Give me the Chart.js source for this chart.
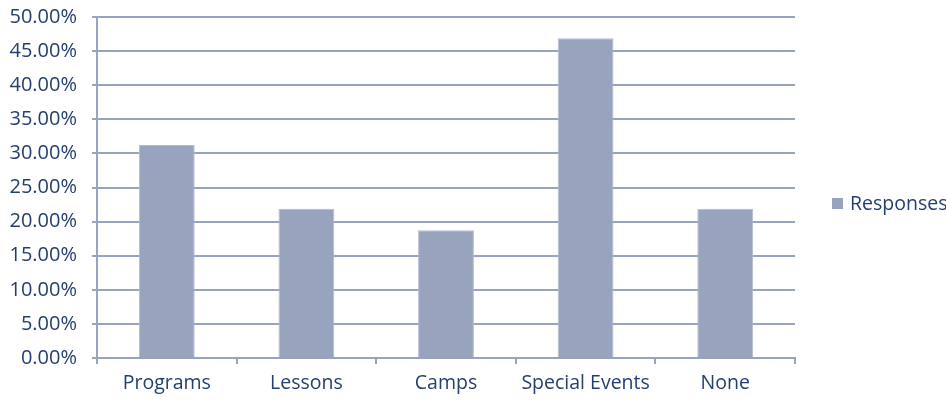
<!DOCTYPE html>
<html>
<head>
<meta charset="utf-8">
<script src="https://cdn.jsdelivr.net/npm/chart.js@4.4.0/dist/chart.umd.min.js"></script>
<style>
  html, body { margin: 0; padding: 0; background: #fff; }
  #wrap { width: 946px; height: 400px; position: relative; }
</style>
</head>
<body>
<div id="wrap"><canvas id="chart"></canvas></div>
<script>
// data
const categories = ['Programs', 'Lessons', 'Camps', 'Special Events', 'None'];
const responses = [31.25, 21.88, 18.75, 46.88, 21.88];
const seriesName = 'Responses';

const textColor = '#243e6f';
const lineColor = '#98a4bd';
const barColor = '#98a4bd';
const fontFamily = '"Open Sans", "Noto Sans", sans-serif';

// simple legend drawn on the right, like the spreadsheet one
const sideLegend = {
    id: 'sideLegend',
    afterDraw(chart) {
        const ctx = chart.ctx;
        const ds = chart.data.datasets[0];
        ctx.save();
        ctx.fillStyle = ds.backgroundColor;
        ctx.fillRect(832, 198, 11, 11);
        ctx.fillStyle = textColor;
        ctx.font = '19.5px ' + fontFamily;
        ctx.textBaseline = 'middle';
        ctx.textAlign = 'left';
        ctx.fillText(ds.label, 850, 204);
        ctx.restore();
    }
};

new Chart(document.getElementById('chart'), {
    type: 'bar',
    data: {
        labels: categories,
        datasets: [{
            label: seriesName,
            data: responses,
            backgroundColor: barColor,
            borderColor: '#b3bccf',
            borderWidth: 1,
            barPercentage: 0.4,
            categoryPercentage: 1.0
        }]
    },
    options: {
        responsive: true,
        maintainAspectRatio: false,
        animation: false,
        layout: {
            padding: { top: 17, right: 151, left: 0, bottom: 0 }
        },
        scales: {
            y: {
                min: 0,
                max: 50,
                afterFit(scale) {
                    scale.width = 97;
                    scale.paddingTop = 0;
                    scale.paddingBottom = 0;
                },
                border: { color: lineColor, width: 2 },
                grid: { color: lineColor, lineWidth: 2, tickLength: 5, tickColor: lineColor },
                ticks: {
                    stepSize: 5,
                    padding: 15,
                    color: textColor,
                    font: { family: fontFamily, size: 20 },
                    callback: v => v.toFixed(2) + '%'
                }
            },
            x: {
                afterFit(scale) { scale.height = 42; },
                border: { color: lineColor, width: 2 },
                grid: { offset: true, drawOnChartArea: false, tickLength: 6, tickColor: lineColor, lineWidth: 2 },
                ticks: {
                    padding: 8,
                    color: textColor,
                    font: { family: fontFamily, size: 19.5 }
                }
            }
        },
        plugins: {
            legend: { display: false },
            tooltip: { enabled: false }
        }
    },
    plugins: [sideLegend]
});
</script>
</body>
</html>
